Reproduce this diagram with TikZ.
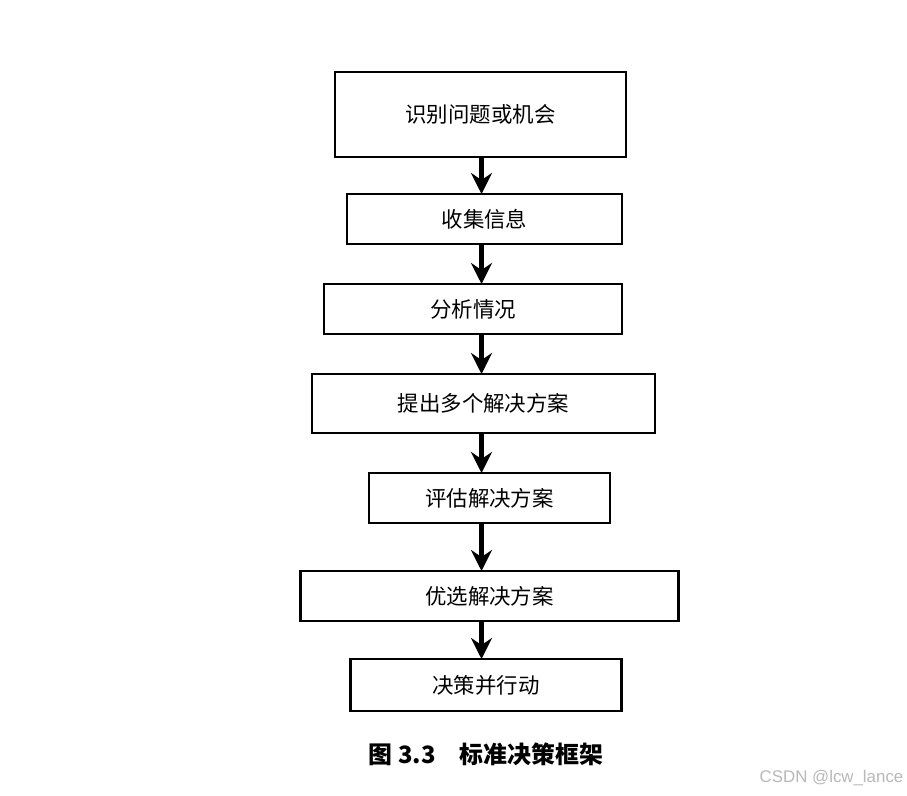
\documentclass[tikz,border=0pt]{standalone}
\usepackage{fontspec}
\setmainfont{Noto Sans CJK SC}
\newfontfamily\wmfont{Liberation Sans}
\usetikzlibrary{arrows.meta, positioning}

\begin{document}
\begin{tikzpicture}[
  font=\fontsize{12.2pt}{14pt}\selectfont,
  node distance = 0.8cm,
  line width=1.3pt,
  % Define block styles
  stepblock/.style={
    draw,
    inner sep=0pt,
    outer sep=0pt,
    minimum height=1cm,
    align=center
  },
  captionblock/.style={
    font=\fontsize{13.6pt}{16pt}\selectfont\bfseries
  },
  % Arrow style
  connector/.style={
    -{Stealth[length=0.42cm, width=0.42cm, inset=0.14cm]},
    line width=2.6pt
  }
]

% -----------------------------------------------
% CANVAS
% -----------------------------------------------
\useasboundingbox (0,0) rectangle (18.14,-15.9);
\coordinate (spine) at (9.63,0);

% -----------------------------------------------
% DECISION STEPS
% -----------------------------------------------
\node[stepblock, minimum width=5.82cm, minimum height=1.7cm] (identify) at (9.61,-2.29) {识别问题或机会};

\node[stepblock, minimum width=5.5cm, below=0.74cm of identify, xshift=0.08cm] (collect) {收集信息};

\node[stepblock, minimum width=5.96cm, below=of collect, xshift=-0.23cm] (analyse) {分析情况};

\node[stepblock, minimum width=6.86cm, minimum height=1.18cm, below=of analyse, xshift=0.21cm] (propose) {提出多个解决方案};

\node[stepblock, minimum width=4.82cm, below=of propose, xshift=0.12cm] (evaluate) {评估解决方案};

\node[stepblock, minimum width=7.56cm, below=0.96cm of evaluate] (choose) {优选解决方案};

\node[stepblock, minimum width=5.42cm, minimum height=1.04cm, below=0.76cm of choose, xshift=-0.07cm] (decide) {决策并行动};

% -----------------------------------------------
% CAPTION AND WATERMARK
% -----------------------------------------------
\node[captionblock, below=0.5cm of decide] (caption) {图 3.3\quad 标准决策框架};

\node[font=\wmfont\fontsize{9.6pt}{11pt}\selectfont, text=black!28] (watermark) at (16.63,-15.56) {CSDN @lcw\_lance};

% -----------------------------------------------
% ARROWS
% -----------------------------------------------
\draw[connector] (identify.south -| spine) -- (collect.north -| spine);
\draw[connector] (collect.south -| spine) -- (analyse.north -| spine);
\draw[connector] (analyse.south -| spine) -- (propose.north -| spine);
\draw[connector] (propose.south -| spine) -- (evaluate.north -| spine);
\draw[connector] (evaluate.south -| spine) -- (choose.north -| spine);
\draw[connector] (choose.south -| spine) -- (decide.north -| spine);

\end{tikzpicture}
\end{document}
